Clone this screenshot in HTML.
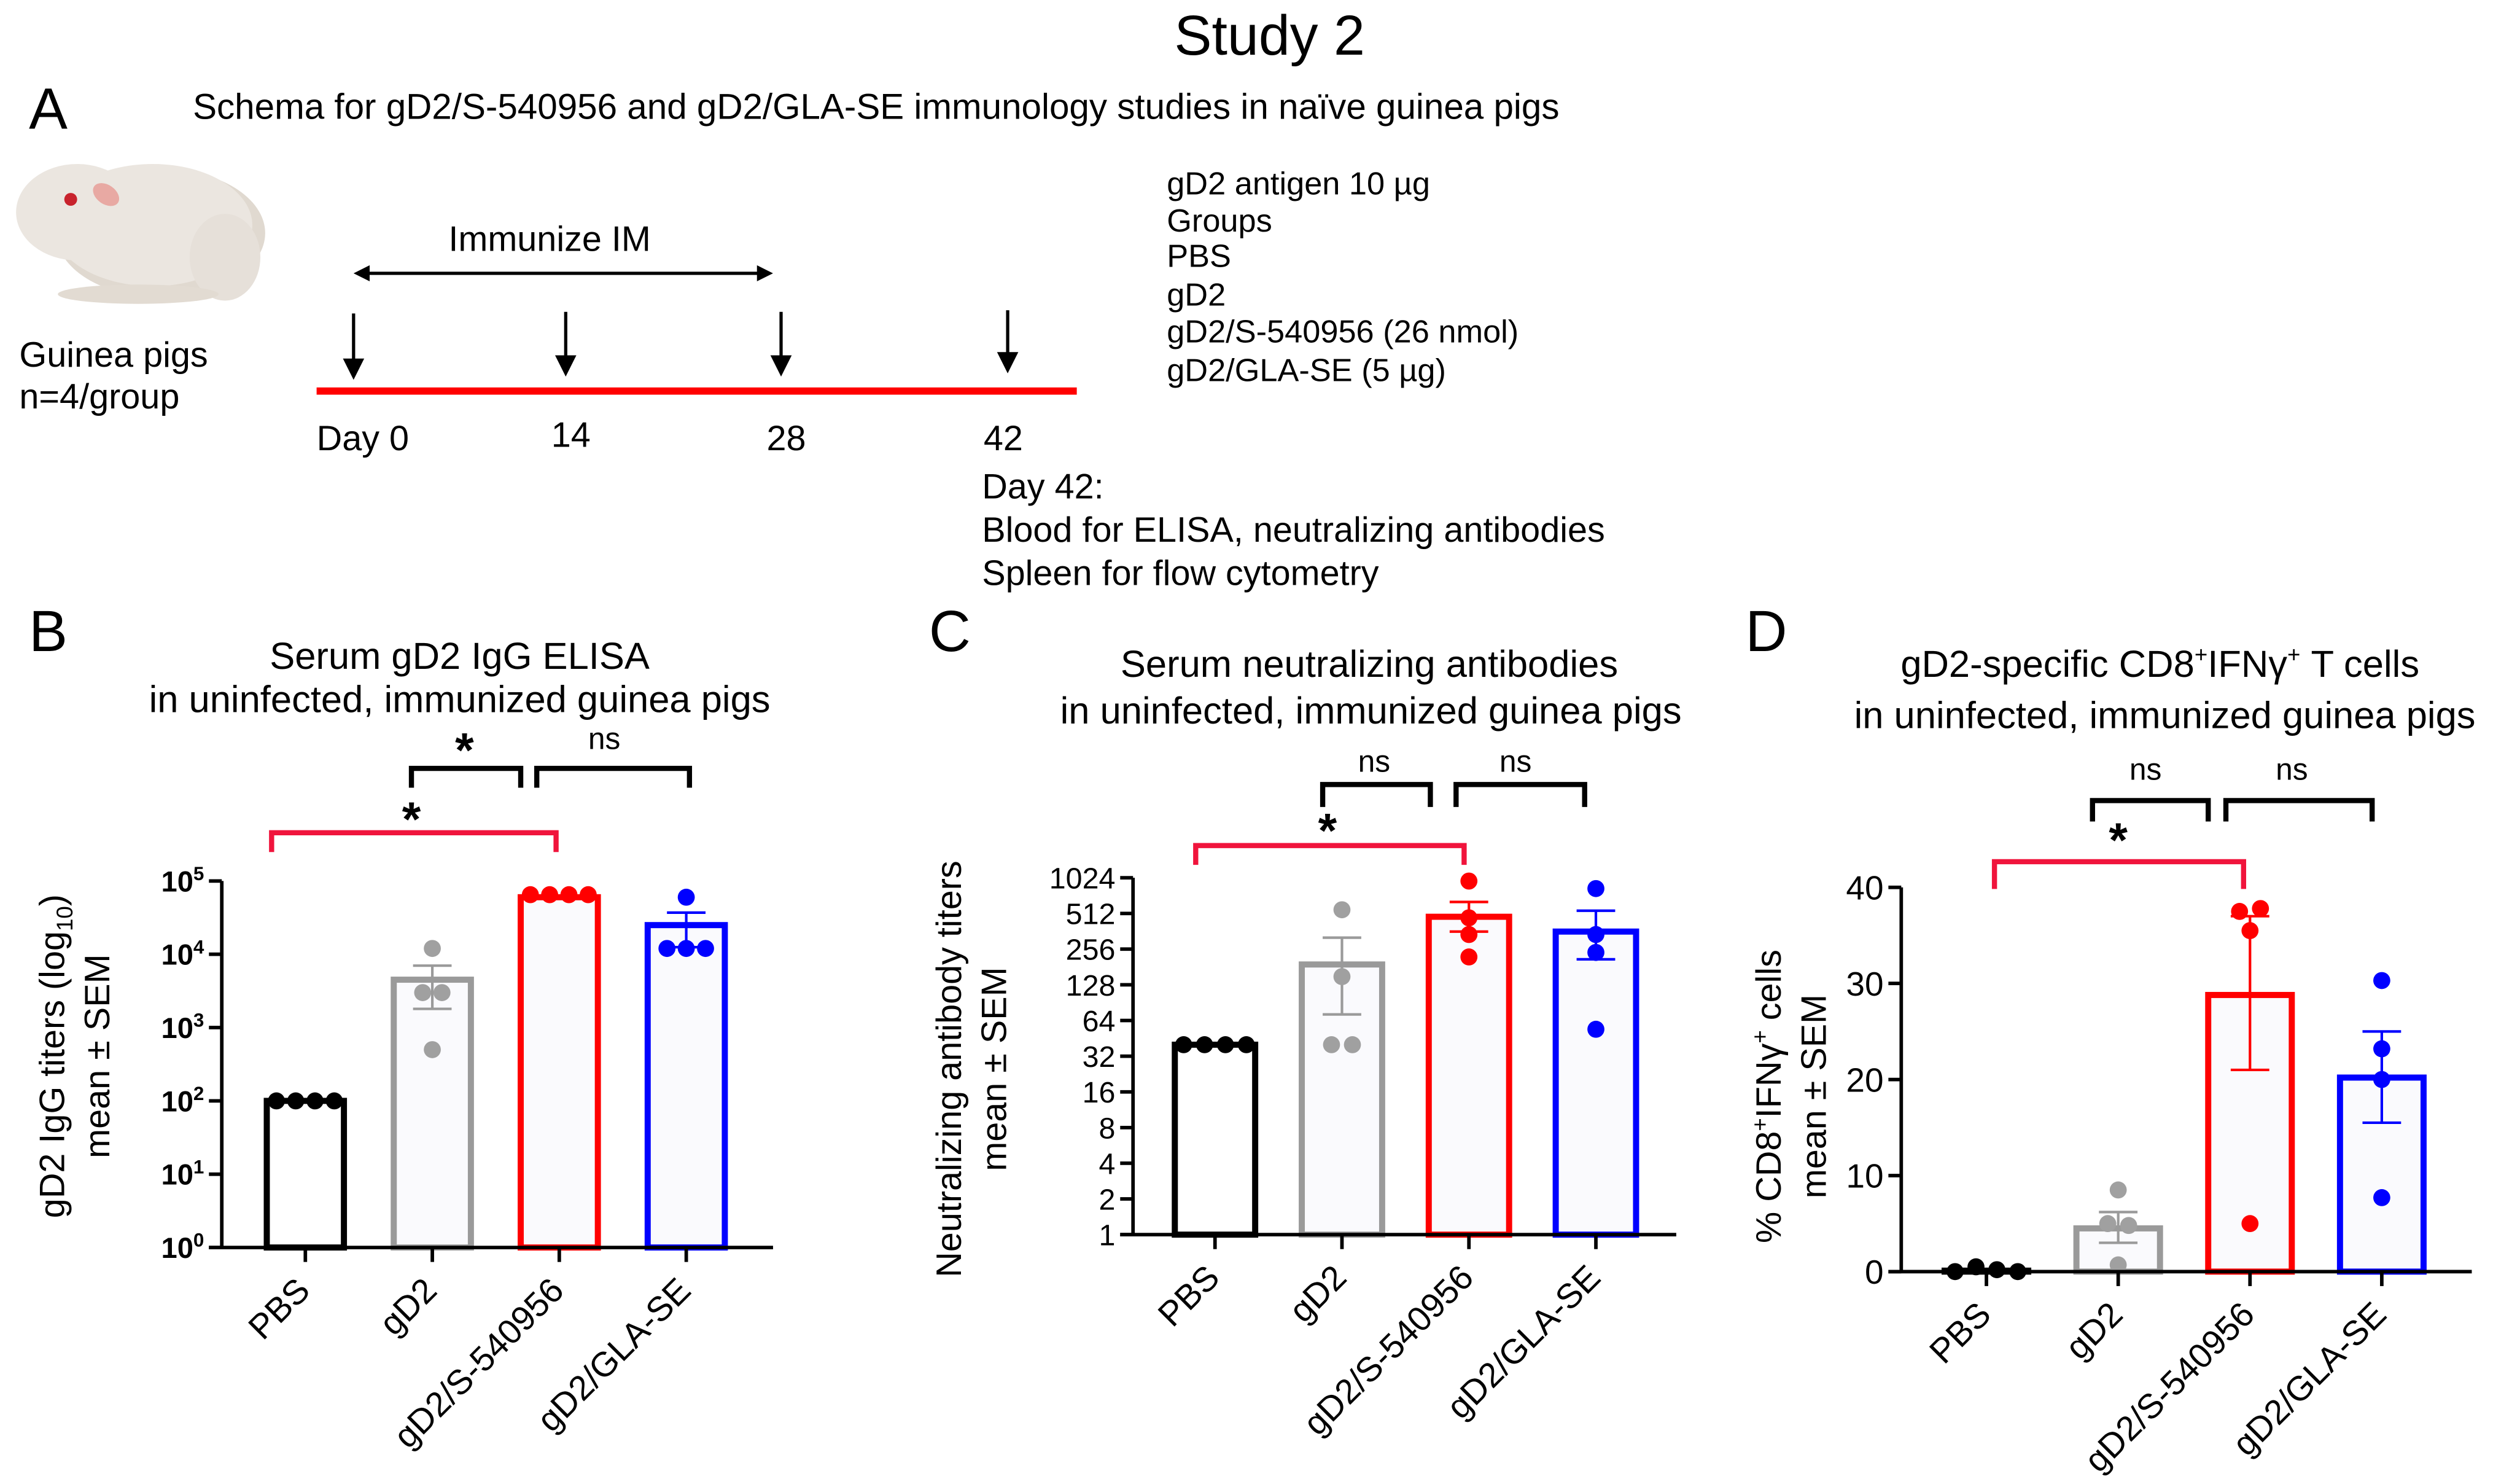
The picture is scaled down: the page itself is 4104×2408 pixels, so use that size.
<!DOCTYPE html>
<html><head><meta charset="utf-8"><style>
html,body{margin:0;padding:0;background:#fff}
svg{display:block;font-family:"Liberation Sans",Arial,sans-serif}
</style></head><body>
<svg id="fig" width="4104" height="2408" viewBox="0 0 1568 920">
<g>
<text x="790" y="34" font-size="35" text-anchor="middle">Study 2</text>
<text x="18" y="80" font-size="36">A</text>
<text x="120" y="74" font-size="22.3">Schema for gD2/S-540956 and gD2/GLA-SE immunology studies in naïve guinea pigs</text>
</g>
<g>
<ellipse cx="100" cy="145" rx="65" ry="40" fill="#e0d9d0"/>
<ellipse cx="95" cy="140" rx="62" ry="38" fill="#ebe6e0"/>
<ellipse cx="48" cy="132" rx="38" ry="30" fill="#ebe6e0"/>
<ellipse cx="66" cy="121" rx="9" ry="6" fill="#e8a9a3" transform="rotate(35 66 121)"/>
<circle cx="44" cy="124" r="4" fill="#c8232d"/>
<ellipse cx="140" cy="160" rx="22" ry="27" fill="#e6e0d9"/>
<ellipse cx="86" cy="183" rx="50" ry="6" fill="#e2dbd2"/>
</g>
<g font-size="22">
<text x="12" y="228">Guinea pigs</text>
<text x="12" y="254">n=4/group</text>
<text x="342" y="156" text-anchor="middle">Immunize IM</text>
<g>
<line x1="224" y1="170" x2="477" y2="170" stroke="#000" stroke-width="2"/>
<path d="M220 170 L230 165 L230 175 Z M481 170 L471 165 L471 175 Z" fill="#000"/>
</g>
<g stroke="#000" stroke-width="2">
<line x1="220" y1="195" x2="220" y2="226"/><path d="M215 224 L225 224 L220 234 Z" fill="#000"/>
<line x1="352" y1="194" x2="352" y2="224"/><path d="M347 222 L357 222 L352 232 Z" fill="#000"/>
<line x1="486" y1="194" x2="486" y2="224"/><path d="M481 222 L491 222 L486 232 Z" fill="#000"/>
<line x1="627" y1="193" x2="627" y2="222"/><path d="M622 220 L632 220 L627 230 Z" fill="#000"/>
</g>
<rect x="197" y="241" width="473" height="4.5" fill="#ff0000"/>
<text x="197" y="280">Day 0</text>
<text x="343" y="278">14</text>
<text x="477" y="280">28</text>
<text x="612" y="280">42</text>
<g font-size="20">
<text x="726" y="121">gD2 antigen 10 µg</text>
<text x="726" y="144">Groups</text>
<text x="726" y="166">PBS</text>
<text x="726" y="190">gD2</text>
<text x="726" y="213">gD2/S-540956 (26 nmol)</text>
<text x="726" y="237">gD2/GLA-SE (5 µg)</text>
</g>
<g>
<text x="611" y="310">Day 42:</text>
<text x="611" y="337">Blood for ELISA, neutralizing antibodies</text>
<text x="611" y="364">Spleen for flow cytometry</text>
</g>
</g>
<text x="18" y="405" font-size="36">B</text>
<text x="578" y="405" font-size="36">C</text>
<text x="1086" y="405" font-size="36">D</text>
<g font-size="23.5" text-anchor="middle">
<text x="286" y="416">Serum gD2 IgG ELISA</text>
<text x="286" y="443">in uninfected, immunized guinea pigs</text>
<text x="852" y="421">Serum neutralizing antibodies</text>
<text x="853" y="450">in uninfected, immunized guinea pigs</text>
<text x="1344" y="421">gD2-specific CD8<tspan font-size="14" dy="-9">+</tspan><tspan dy="9">IFNγ</tspan><tspan font-size="14" dy="-9">+</tspan><tspan dy="9"> T cells</tspan></text>
<text x="1347" y="453">in uninfected, immunized guinea pigs</text>
</g>
<g id="charts"></g>
</svg>
<script>
const categories = ["PBS","gD2","gD2/S-540956","gD2/GLA-SE"];
const colors = ["#000000","#9a9a9a","#ff0000","#0000ff"];
// Panel B (log10)
const bMeans = [100, 4500, 60000, 25000];
const bErrLow = [100, 1800, 60000, 12500];
const bErrHigh = [100, 7000, 60000, 37000];
const bPoints = [[100,100,100,100],[12000,3000,3000,500],[65000,65000,65000,65000],[60000,12000,12000,12000]];
const bTicks = [0,1,2,3,4,5];
// Panel C (log2)
const cMeans = [40, 190, 480, 360];
const cErrLow = [40, 72, 360, 210];
const cErrHigh = [40, 320, 640, 540];
const cPoints = [[40,40,40,40],[550,150,40,40],[960,470,340,220],[830,340,240,54]];
const cTicks = [1,2,4,8,16,32,64,128,256,512,1024];
// Panel D (linear)
const dMeans = [0.1, 4.5, 28.8, 20.2];
const dErrLow = [0.1, 3.0, 21.0, 15.5];
const dErrHigh = [0.1, 6.2, 37.0, 25.0];
const dPoints = [[0,0.5,0.2,0],[8.5,5,4.8,0.7],[37.5,37.8,35.5,5],[30.3,23.2,20,7.7]];
const dTicks = [0,10,20,30,40];

const NS = "http://www.w3.org/2000/svg";
const root = document.getElementById("charts");
function mk(tag, attrs, parent){const e=document.createElementNS(NS,tag);for(const k in attrs)e.setAttribute(k,attrs[k]);(parent||root).appendChild(e);return e;}

function panel(cfg){
  const g = mk("g",{});
  
  
  const y = cfg.y, x = i => cfg.x0 + i*cfg.step;
  categories.forEach((c,i)=>{
    const top = y(cfg.means[i]);
    const b = mk("rect",{x:x(i)-cfg.bw/2,y:top,width:cfg.bw,height:Math.max(0,cfg.yb-top),fill:i==0?"#fff":"#fafafd",stroke:colors[i],"stroke-width":3.8},g);
    
    
  });
  categories.forEach((c,i)=>{
    if(cfg.errHigh[i]===cfg.errLow[i]) return;
    const eg = mk("g",{stroke:colors[i],"stroke-width":1.6},g);
    
    
    mk("line",{x1:x(i),x2:x(i),y1:y(cfg.errHigh[i]),y2:y(cfg.errLow[i])},eg);
    mk("line",{x1:x(i)-12,x2:x(i)+12,y1:y(cfg.errHigh[i]),y2:y(cfg.errHigh[i])},eg);
    mk("line",{x1:x(i)-12,x2:x(i)+12,y1:y(cfg.errLow[i]),y2:y(cfg.errLow[i])},eg);
  });
  categories.forEach((c,i)=>{
    const pts = cfg.points[i];
    pts.forEach((v,j)=>{
      let dx=0;
      const same = pts.filter(p=>Math.abs(y(p)-y(v))<6);
      if(same.length>1){const idx=pts.filter((p,k)=>k<j&&Math.abs(y(p)-y(v))<6).length;dx=(idx-(same.length-1)/2)*cfg.dotGap;}
      const p = mk("circle",{cx:x(i)+dx,cy:y(v),r:5.3,fill:i==1?"#a0a0a0":colors[i]},g);
      
      
    });
  });
  const ax = mk("g",{stroke:"#000","stroke-width":2.2},g);
  
  
  mk("line",{x1:cfg.ax,x2:cfg.ax,y1:cfg.ytop,y2:cfg.yb+1},ax);
  mk("line",{x1:cfg.ax-8,x2:cfg.xend,y1:cfg.yb,y2:cfg.yb},ax);
  cfg.ticks.forEach(t=>{
    mk("line",{x1:cfg.ax-8,x2:cfg.ax,y1:y(cfg.tickVal(t)),y2:y(cfg.tickVal(t))},ax);
  });
  cfg.ticks.forEach(t=>{
    const tx = mk("text",{x:cfg.ax-11,y:y(cfg.tickVal(t))+cfg.tfs*0.36,"font-size":cfg.tfs,"text-anchor":"end","font-weight":cfg.bold?"bold":"normal"},g);
    
    
    if(cfg.bold){tx.textContent="10";const s=mk("tspan",{dy:-7,"font-size":12},tx);s.textContent=String(t);}
    else tx.textContent=String(t);
  });
  categories.forEach((c,i)=>{
    mk("line",{x1:x(i),x2:x(i),y1:cfg.yb,y2:cfg.yb+9},ax);
    const lx=x(i)+4, ly=cfg.yb+28;
    const t = mk("text",{x:lx,y:ly,"font-size":21.5,"text-anchor":"end",transform:`rotate(-45 ${lx} ${ly})`},g);
    
    
    t.textContent=c;
  });
  const yt = mk("text",{x:0,y:0,"font-size":cfg.yfs,"text-anchor":"middle",transform:`translate(${cfg.ytx1} ${cfg.ytc}) rotate(-90)`},g);
  
  
  cfg.ytitle(yt);
  const yt2 = mk("text",{x:0,y:0,"font-size":cfg.yfs,"text-anchor":"middle",transform:`translate(${cfg.ytx2} ${cfg.ytc}) rotate(-90)`},g);
  
  
  yt2.textContent="mean ± SEM";
  cfg.brackets.forEach(b=>{
    const br = mk("path",{d:`M${b[0]} ${b[3]} L${b[0]} ${b[2]} L${b[1]} ${b[2]} L${b[1]} ${b[3]}`,fill:"none",stroke:b[4],"stroke-width":3.2},g);
    
    
    const t = mk("text",{x:b[5],y:b[6],"font-size":b[7]=="*"?30:19,"text-anchor":"middle","font-weight":b[7]=="*"?"bold":"normal"},g);
    
    
    t.textContent=b[7];
  });
}

panel({name:"panel-b-igg-elisa", x0:190, step:79, bw:48, ax:138, xend:481, yb:776, ytop:548,
  y:v=>776-(Math.log10(Math.max(v,1)))*(776-548)/5, means:bMeans, errLow:bErrLow, errHigh:bErrHigh, points:bPoints,
  ticks:bTicks, tickVal:t=>Math.pow(10,t), tfs:18, bold:true, dotGap:12,
  yfs:22, ytx1:40, ytx2:68, ytc:657,
  ytitle:t=>{t.textContent="gD2 IgG titers (log";const s=mk("tspan",{dy:5,"font-size":14},t);s.textContent="10";const s2=mk("tspan",{dy:-5},t);s2.textContent=")";},
  brackets:[[169,346,518,530,"#f0143c",256,520,"*"],[256,324,478,490,"#000",289,477,"*"],[334,429,478,490,"#000",376,466,"ns"]]});

panel({name:"panel-c-neutralizing", x0:756, step:79, bw:50, ax:705, xend:1043, yb:768, ytop:546,
  y:v=>768-Math.log2(Math.max(v,1))*(768-546)/10, means:cMeans, errLow:cErrLow, errHigh:cErrHigh, points:cPoints,
  ticks:cTicks, tickVal:t=>t, tfs:18.5, bold:false, dotGap:13,
  yfs:22, ytx1:598, ytx2:626, ytc:665,
  ytitle:t=>{t.textContent="Neutralizing antibody titers";},
  brackets:[[744,911,526,538,"#f0143c",826,527,"*"],[823,890,488,502,"#000",855,480,"ns"],[906,986,488,502,"#000",943,480,"ns"]]});

panel({name:"panel-d-cd8-ifng", x0:1236, step:82, bw:52, ax:1183, xend:1538, yb:791, ytop:552,
  y:v=>791-v*(791-552)/40, means:dMeans, errLow:dErrLow, errHigh:dErrHigh, points:dPoints,
  ticks:dTicks, tickVal:t=>t, tfs:21, bold:false, dotGap:13,
  yfs:22, ytx1:1108, ytx2:1136, ytc:682,
  ytitle:t=>{t.textContent="% CD8";let s=mk("tspan",{dy:-8,"font-size":14},t);s.textContent="+";s=mk("tspan",{dy:8},t);s.textContent="IFNγ";s=mk("tspan",{dy:-8,"font-size":14},t);s.textContent="+";s=mk("tspan",{dy:8},t);s.textContent=" cells";},
  brackets:[[1241,1396,536,553,"#f0143c",1318,533,"*"],[1302,1374,498,511,"#000",1335,485,"ns"],[1385,1476,498,511,"#000",1426,485,"ns"]]});
</script>
</body></html>
